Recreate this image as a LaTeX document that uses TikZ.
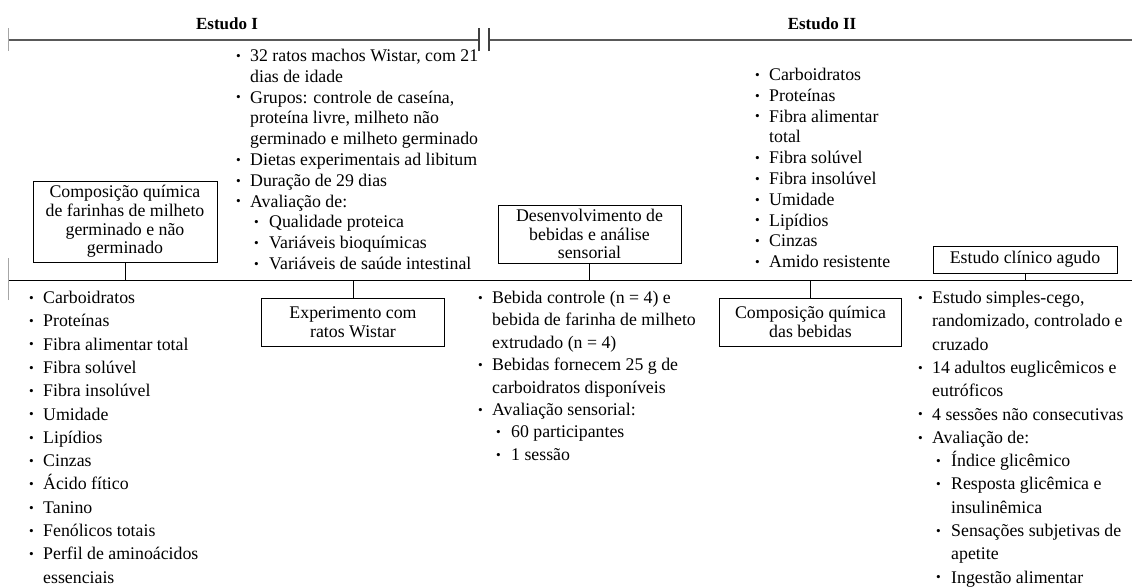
\documentclass[tikz,border=0pt]{standalone}
\usepackage{fontspec}
\setmainfont{Liberation Serif}
\newcommand{\upfont}{\fontsize{17.8}{20.8}\selectfont}
\newcommand{\lowfont}{\fontsize{17.8}{23.3}\selectfont}
\newcommand{\midfont}{\fontsize{17.8}{22.4}\selectfont}
\newcommand{\boxfont}{\fontsize{17.8}{18.6}\selectfont}
\newcommand{\bul}{\raisebox{0.15ex}{\scalebox{0.75}{•}}}
\newcommand{\itm}[1]{\makebox[14pt][l]{\bul}#1}
\newcommand{\cont}[1]{\hspace*{14pt}#1}
\newcommand{\subitm}[1]{\hspace*{18pt}\makebox[15pt][l]{\bul}#1}
\newcommand{\subcont}[1]{\hspace*{33pt}#1}
\begin{document}
\begin{tikzpicture}[x=1pt,y=-1pt,
  box/.style={draw=black, line width=1pt, align=center, inner sep=0pt, font=\boxfont},
  lst/.style={anchor=north west, align=left, inner sep=0pt},
  head/.style={font=\fontsize{17}{20}\selectfont\bfseries, inner sep=0pt},
  conn/.style={draw=black, line width=1pt},
  tick/.style={draw=black!35, line width=0.8pt}]
\useasboundingbox (0,0) rectangle (1132,587);
% top time line
\coordinate (tL) at (8,40);
\coordinate (tB1) at (479,40);
\coordinate (tB2) at (489,40);
\coordinate (tR) at (1132,40);
\draw[line width=2pt, draw=black!65] (tL) -- (tB1);
\draw[line width=2pt, draw=black!65] (tB2) -- (tR);
\draw[tick] ([yshift=-11pt]tL) -- ([yshift=12pt]tL);
\draw[line width=1.2pt, draw=black!75] ([yshift=-11pt]tB1) -- ([yshift=12pt]tB1);
\draw[line width=1.2pt, draw=black!75] ([yshift=-11pt]tB2) -- ([yshift=12pt]tB2);
\node[head] (h1) at (227,24) {Estudo I};
\node[head] (h2) at (822,24) {Estudo II};
% middle line
\coordinate (mL) at (8,280);
\coordinate (mR) at (1132,280);
\draw[conn] (mL) -- (mR);
\draw[tick] ([yshift=-20pt]mL) -- ([yshift=22pt]mL);
% boxes
\node[box, minimum width=184pt, minimum height=81pt] (b1) at (125,221.5)
  {Composição química\\de farinhas de milheto\\germinado e não\\germinado};
\node[box, minimum width=183pt, minimum height=48pt] (b2) at (353,322)
  {Experimento com\\ratos Wistar};
\node[box, minimum width=183pt, minimum height=58pt] (b3) at (589.5,234)
  {Desenvolvimento de\\bebidas e análise\\sensorial};
\node[box, minimum width=182pt, minimum height=48pt] (b4) at (810.5,322)
  {Composição química\\das bebidas};
\node[box, minimum width=184pt, minimum height=27pt] (b5) at (1025,259.5)
  {Estudo clínico agudo};
% connectors
\draw[conn] (b1.south) -- (b1.south |- mL);
\draw[conn] (b2.north) -- (b2.north |- mL);
\draw[conn] (b3.south) -- (b3.south |- mL);
\draw[conn] (b4.north) -- (b4.north |- mL);
\draw[conn] (b5.south) -- (b5.south |- mL);
% lists
\node[lst, font=\upfont] (lA) at (236,49) {%
\itm{32 ratos machos Wistar, com 21}\\
\cont{dias de idade}\\
\itm{Grupos: controle de caseína,}\\
\cont{proteína livre, milheto não}\\
\cont{germinado e milheto germinado}\\
\itm{Dietas experimentais ad libitum}\\
\itm{Duração de 29 dias}\\
\itm{Avaliação de:}\\
\subitm{Qualidade proteica}\\
\subitm{Variáveis bioquímicas}\\
\subitm{Variáveis de saúde intestinal}};
\node[lst, font=\lowfont] (lB) at (29,291) {%
\itm{Carboidratos}\\
\itm{Proteínas}\\
\itm{Fibra alimentar total}\\
\itm{Fibra solúvel}\\
\itm{Fibra insolúvel}\\
\itm{Umidade}\\
\itm{Lipídios}\\
\itm{Cinzas}\\
\itm{Ácido fítico}\\
\itm{Tanino}\\
\itm{Fenólicos totais}\\
\itm{Perfil de aminoácidos}\\
\cont{essenciais}};
\node[lst, font=\upfont] (lC) at (755,68) {%
\itm{Carboidratos}\\
\itm{Proteínas}\\
\itm{Fibra alimentar}\\
\cont{total}\\
\itm{Fibra solúvel}\\
\itm{Fibra insolúvel}\\
\itm{Umidade}\\
\itm{Lipídios}\\
\itm{Cinzas}\\
\itm{Amido resistente}};
\node[lst, font=\midfont] (lD) at (478,291) {%
\itm{Bebida controle (n = 4) e}\\
\cont{bebida de farinha de milheto}\\
\cont{extrudado (n = 4)}\\
\itm{Bebidas fornecem 25 g de}\\
\cont{carboidratos disponíveis}\\
\itm{Avaliação sensorial:}\\
\subitm{60 participantes}\\
\subitm{1 sessão}};
\node[lst, font=\lowfont] (lE) at (918,291) {%
\itm{Estudo simples-cego,}\\
\cont{randomizado, controlado e}\\
\cont{cruzado}\\
\itm{14 adultos euglicêmicos e}\\
\cont{eutróficos}\\
\itm{4 sessões não consecutivas}\\
\itm{Avaliação de:}\\
\subitm{Índice glicêmico}\\
\subitm{Resposta glicêmica e}\\
\subcont{insulinêmica}\\
\subitm{Sensações subjetivas de}\\
\subcont{apetite}\\
\subitm{Ingestão alimentar}};
\end{tikzpicture}
\end{document}
